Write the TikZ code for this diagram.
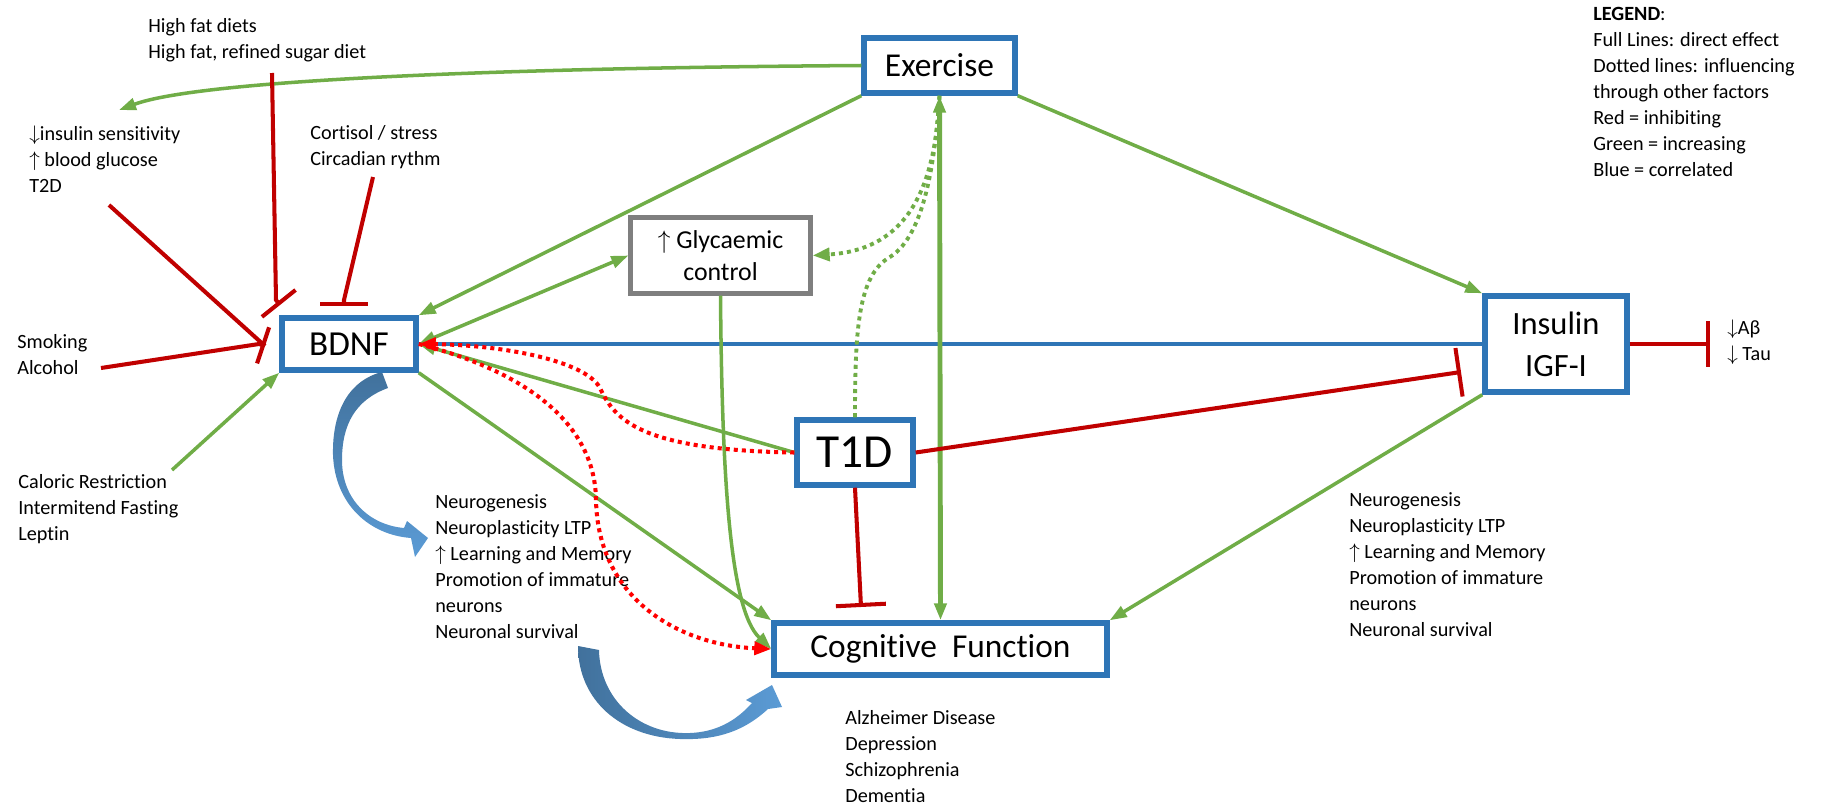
\documentclass[tikz,border=0pt]{standalone}
\usepackage{fontspec}
\setmainfont{Carlito}[Ligatures=NoCommon]
\usepackage{xcolor}
\usepackage{tikz}
\usetikzlibrary{arrows.meta, positioning}
\definecolor{boxblue}{RGB}{46,117,182}
\definecolor{incgreen}{RGB}{112,173,71}
\definecolor{inhred}{RGB}{192,0,0}
\definecolor{dotred}{RGB}{255,0,0}
\definecolor{boxgray}{RGB}{127,127,127}
\definecolor{arrdark}{RGB}{65,113,156}
\definecolor{arrlight}{RGB}{91,155,213}
\tikzstyle{bbox} = [rectangle, align=center, inner sep=0pt, draw=boxblue, line width=3.1pt, fill=white]
\tikzstyle{gbox} = [rectangle, align=center, inner sep=0pt, draw=boxgray, line width=2.5pt, fill=white]
\tikzstyle{txt} = [align=left, anchor=west, inner sep=0pt, font=\fontsize{11.5}{14.8}\selectfont]
\tikzstyle{inc} = [incgreen, line width=2pt, -{Triangle[length=0.34cm, width=0.24cm]}]
\tikzstyle{incboth} = [incgreen, line width=2pt, {Triangle[length=0.34cm, width=0.24cm]}-{Triangle[length=0.34cm, width=0.24cm]}]
\tikzstyle{incdot} = [incgreen, line width=2.2pt, dash pattern=on 2.3pt off 2.3pt, -{Triangle[length=0.34cm, width=0.26cm]}]
\tikzstyle{inh} = [inhred, line width=2.3pt]
\tikzstyle{inhdot} = [dotred, line width=2.3pt, dash pattern=on 2.3pt off 2.3pt, -{Triangle[length=0.34cm, width=0.26cm]}]
\tikzstyle{cor} = [boxblue, line width=2.3pt]
\begin{document}
\begin{tikzpicture}[x=0.02cm, y=-0.02cm]
\useasboundingbox (0,0) rectangle (1823,808);

% curved block arrows
\shade [top color=arrdark, bottom color=arrlight] (388,388) .. controls (355,400) and (342,425) .. (342,460) .. controls (342,500) and (370,525) .. (404,528) -- (407,521) -- (428,538) -- (415,557) -- (411,538) .. controls (370,535) and (335,505) .. (333,455) .. controls (332,410) and (350,380) .. (382,372) -- cycle;
\shade [left color=arrdark, right color=arrlight] (599,650) .. controls (600,700) and (640,735) .. (690,733) .. controls (715,732) and (735,722) .. (752,703) -- (746,700) -- (772,685) -- (782,707) -- (768,709) .. controls (740,735) and (710,740) .. (680,739) .. controls (620,737) and (578,700) .. (578,646) -- cycle;

\node (exer) [bbox, minimum width=3.02cm, minimum height=1.10cm, font=\fontsize{19}{23}\selectfont] at (939.5,65.5) {Exercise};
\node (glyc) [gbox, minimum width=3.6cm, minimum height=1.52cm, font=\fontsize{14.7}{18}\selectfont] at (720.5,255.5) {$\uparrow$ Glycaemic\\control};
\node (bdnf) [bbox, minimum width=2.68cm, minimum height=1.04cm, font=\fontsize{20}{24}\selectfont] at (349,344) {BDNF};
\node (ins) [bbox, minimum width=2.84cm, minimum height=1.92cm, font=\fontsize{18.5}{24}\selectfont] at (1556,344) {Insulin\\IGF-I};
\node (t1d) [bbox, minimum width=2.32cm, minimum height=1.30cm, font=\fontsize{27}{32}\selectfont] at (855,452.5) {T1D};
\node (cog) [bbox, minimum width=6.66cm, minimum height=1.04cm, font=\fontsize{19}{23}\selectfont] at (940.5,649) {Cognitive\ \ Function};

\node (hfat) [txt] at (148,40) {High fat diets\\High fat, refined sugar diet};
\node (t2d) [txt] at (29,159) {$\downarrow$insulin sensitivity\\$\uparrow$ blood glucose\\T2D};
\node (cort) [txt] at (310,147.5) {Cortisol / stress\\Circadian rythm};
\node (smok) [txt] at (17,354.5) {Smoking\\Alcohol};
\node (calor) [txt] at (18,509) {Caloric Restriction\\Intermitend Fasting\\Leptin};
\node (effl) [txt] at (435,566.5) {Neurogenesis\\Neuroplasticity LTP\\$\uparrow$ Learning and Memory\\Promotion of immature\\neurons\\Neuronal survival};
\node (effr) [txt] at (1349,564.5) {Neurogenesis\\Neuroplasticity LTP\\$\uparrow$ Learning and Memory\\Promotion of immature\\neurons\\Neuronal survival};
\node (dis) [txt] at (845,756.5) {Alzheimer Disease\\Depression\\Schizophrenia\\Dementia};
\node (abeta) [txt] at (1727,342.5) {$\downarrow$Aβ\\$\downarrow$ Tau};
\node (legend) [txt] at (1593,91.5) {\textbf{LEGEND}:\\Full Lines: direct effect\\Dotted lines: influencing\\through other factors\\Red = inhibiting\\Green = increasing\\Blue = correlated};

\coordinate (exertip) at (119,110);
\coordinate (hfatend) at (272,73);
\coordinate (hfatbend) at (276,300);
\coordinate (hfatbar) at (280,305);
\coordinate (cortend) at (373,177);
\coordinate (cortbend) at (344,300);
\coordinate (cortbar) at (344,306);
\coordinate (t2dend) at (109,205);
\coordinate (smokend) at (101,368);
\coordinate (smokbend) at (259,344);
\coordinate (smokbar) at (265,346);
\coordinate (calend) at (172,470);
\coordinate (t1dbar) at (861,607);
\coordinate (t1dinsbar) at (1461,372);
\coordinate (insbar) at (1710,344);
\coordinate (dotbend) at (890,257);

% correlated
\draw [cor] (bdnf.east) -- (ins.west);

% increasing
\draw [inc] (exer.west) .. controls (500,68) and (200,80) .. (exertip);
\draw [inc] (exer.south west) -- (bdnf.north east);
\draw [inc] (exer.south east) -- (ins.north west);
\draw [incboth, line width=2.8pt] (exer.south) -- (cog.north);
\draw [incboth] (bdnf.east) -- (glyc.west);
\draw [inc] (t1d.west) -- (bdnf.east);
\draw [inc] (bdnf.south east) -- (cog.north west);
\draw [inc] (glyc.south) .. controls (722,480) and (730,610) .. (cog.west);
\draw [inc] (ins.south west) -- (cog.north east);
\draw [inc] (calend) -- (bdnf.south west);
\draw [incdot] (exer.south) .. controls (935,200) and (900,250) .. (glyc.east);
\draw [incdot, -] (t1d.north) .. controls (855,330) and (858,275) .. (dotbend) .. controls (925,235) and (935,160) .. (exer.south);

% inhibiting
\draw [inh, -{Bar[width=0.86cm]}] (hfatend) -- (hfatbend) -- (hfatbar);
\draw [inh, -{Bar[width=0.96cm]}] (cortend) -- (cortbend) -- (cortbar);
\draw [inh, -{Bar[width=0.76cm]}] (smokend) -- (smokbend) -- (smokbar);
\draw [inh] (t2dend) -- (smokbar);
\draw [inh, -{Bar[width=1cm]}] (t1d.south) -- (t1dbar);
\draw [inh, -{Bar[width=0.98cm]}] (t1d.east) -- (t1dinsbar);
\draw [inh, -{Bar[width=0.92cm]}] (ins.east) -- (insbar);
\draw [inhdot] (t1d.west) .. controls (640,450) and (615,420) .. (600,388) .. controls (585,360) and (500,345) .. (bdnf.east);
\draw [inhdot] (bdnf.east) .. controls (520,370) and (595,420) .. (596,500) .. controls (598,600) and (680,645) .. (cog.west);

\end{tikzpicture}
\end{document}
